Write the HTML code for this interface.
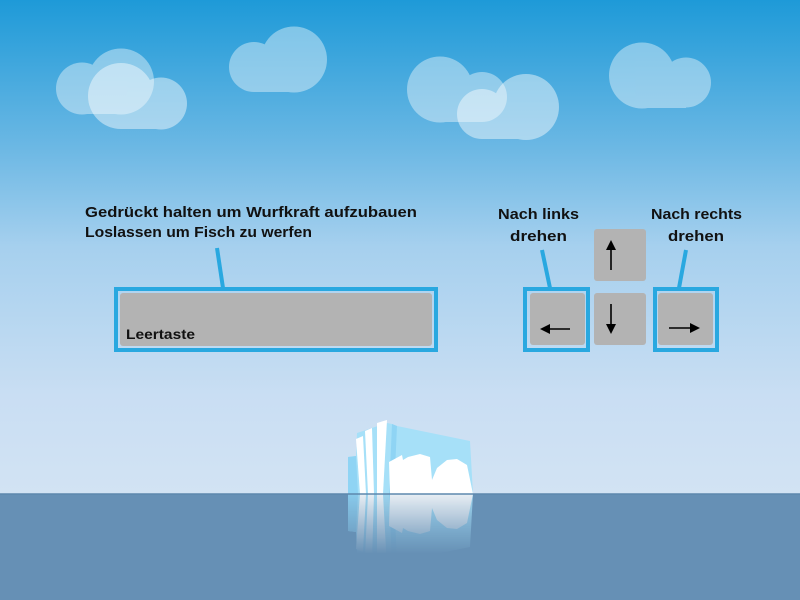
<!DOCTYPE html>
<html><head><meta charset="utf-8"><style>html,body{margin:0;padding:0;}svg{display:block;}</style></head><body>
<svg width="800" height="600" viewBox="0 0 800 600" xmlns="http://www.w3.org/2000/svg" font-family="'Liberation Sans', sans-serif">
<defs>
<linearGradient id="sky" x1="0" y1="0" x2="0" y2="1">
<stop offset="0" stop-color="#1e9ad8"/>
<stop offset="0.3" stop-color="#6cb8e4"/>
<stop offset="0.5" stop-color="#a6d0ee"/>
<stop offset="0.8" stop-color="#c9def3"/>
<stop offset="1" stop-color="#d2e3f3"/>
</linearGradient>
<linearGradient id="fade" x1="0" y1="0" x2="0" y2="1">
<stop offset="0" stop-color="#fff" stop-opacity="0.85"/>
<stop offset="1" stop-color="#fff" stop-opacity="0"/>
</linearGradient>
<mask id="m" maskUnits="userSpaceOnUse" x="0" y="494" width="800" height="80">
<rect x="0" y="494" width="800" height="60" fill="url(#fade)"/>
</mask>
<g id="berg">
<polygon points="348,494 348,457 356,456 357,433 387,423 392,424 397,426 470,441 473,494" fill="#a6e0f8"/>
<polygon points="348,494 348,457 356,456 358,494" fill="#8fd4f4"/>
<polygon points="392,424 397,426 394,494 389,494" fill="#8fd4f4"/>
<polygon points="356,439 363,436 366,494 360,494" fill="#fff"/>
<polygon points="365,431 372,428 374,494 368,494" fill="#fff"/>
<polygon points="377,423 387,420 383,494 377,494" fill="#fff"/>
<polygon points="389,462 402,455 403,460 408,457 420,454 430,457 432,480 437,468 447,460 457,459 467,465 473,494 390,494" fill="#fff"/>
</g>
</defs>
<rect width="800" height="494" fill="url(#sky)"/>
<g fill="#fff">
<g opacity="0.4"><circle cx="82" cy="88.5" r="26"/><circle cx="121" cy="81.5" r="33"/><rect x="82" y="88" width="39" height="26"/></g>
<g opacity="0.45"><circle cx="121" cy="96" r="33"/><circle cx="161" cy="103.5" r="26"/><rect x="121" y="96" width="40" height="33"/></g>
<g opacity="0.4"><circle cx="254" cy="67" r="25"/><circle cx="294" cy="59.5" r="33"/><rect x="254" y="60" width="40" height="32"/></g>
<g opacity="0.4"><circle cx="440" cy="89.5" r="33"/><circle cx="482" cy="97" r="25"/><rect x="440" y="89" width="42" height="33"/></g>
<g opacity="0.45"><circle cx="482" cy="114" r="25"/><circle cx="526" cy="107" r="33"/><rect x="482" y="107" width="44" height="32"/></g>
<g opacity="0.4"><circle cx="642" cy="75.5" r="33"/><circle cx="686" cy="82.5" r="25"/><rect x="642" y="75" width="44" height="33"/></g>
</g>
<rect x="0" y="494" width="800" height="106" fill="#6690b5"/>
<use href="#berg"/>
<g mask="url(#m)"><use href="#berg" transform="translate(0,988) scale(1,-1)"/></g>
<line x1="0" y1="494" x2="800" y2="494" stroke="#5d88ad" stroke-width="1.5"/>

<g font-weight="bold" fill="#111" font-size="15">
<text x="85" y="217" textLength="332" lengthAdjust="spacingAndGlyphs">Gedrückt halten um Wurfkraft aufzubauen</text>
<text x="85" y="237" textLength="227" lengthAdjust="spacingAndGlyphs">Loslassen um Fisch zu werfen</text>
<text x="498" y="219" textLength="81" lengthAdjust="spacingAndGlyphs">Nach links</text>
<text x="510" y="241" textLength="57" lengthAdjust="spacingAndGlyphs">drehen</text>
<text x="651" y="219" textLength="91" lengthAdjust="spacingAndGlyphs">Nach rechts</text>
<text x="668" y="241" textLength="56" lengthAdjust="spacingAndGlyphs">drehen</text>
</g>

<g stroke="#29a8e0" stroke-width="4" fill="none">
<line x1="217" y1="248" x2="223" y2="288"/>
<line x1="542" y1="250" x2="550" y2="288"/>
<line x1="686" y1="250" x2="679" y2="288"/>
<rect x="116" y="289" width="320" height="61"/>
<rect x="525" y="289" width="63" height="61"/>
<rect x="655" y="289" width="62" height="61"/>
</g>
<g fill="#b3b3b3">
<rect x="120" y="293" width="312" height="53" rx="3"/>
<rect x="530" y="293" width="55" height="52" rx="3"/>
<rect x="594" y="229" width="52" height="52" rx="3"/>
<rect x="594" y="293" width="52" height="52" rx="3"/>
<rect x="658" y="293" width="55" height="52" rx="3"/>
</g>
<text x="126" y="339" font-weight="bold" font-size="14" fill="#111" textLength="69" lengthAdjust="spacingAndGlyphs">Leertaste</text>

<g stroke="#000" stroke-width="1.6" fill="#000">
<line x1="611" y1="270" x2="611" y2="248"/><polygon points="606,250 616,250 611,240" stroke="none"/>
<line x1="611" y1="304" x2="611" y2="326"/><polygon points="606,324 616,324 611,334" stroke="none"/>
<line x1="570" y1="329" x2="548" y2="329"/><polygon points="550,324 550,334 540,329" stroke="none"/>
<line x1="669" y1="328" x2="692" y2="328"/><polygon points="690,323 690,333 700,328" stroke="none"/>
</g>
</svg>
</body></html>
